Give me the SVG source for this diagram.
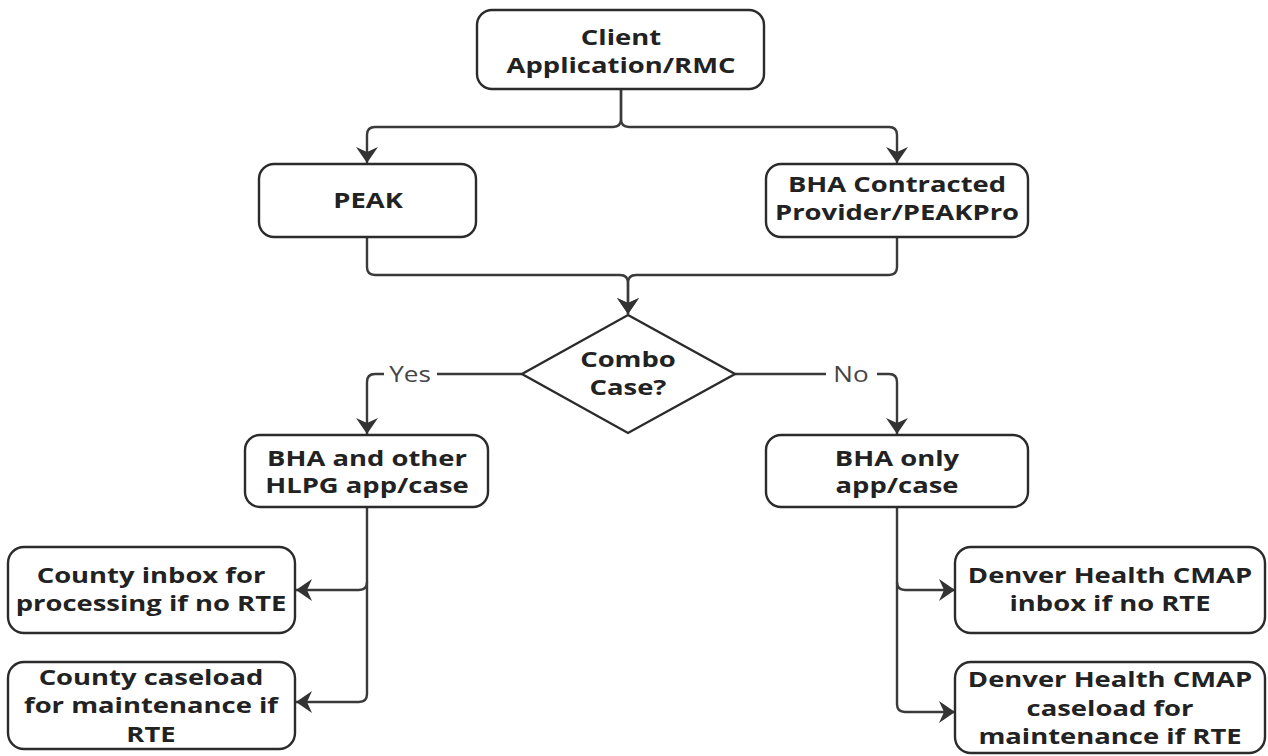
<svg xmlns="http://www.w3.org/2000/svg" width="1268" height="756" viewBox="0 0 1268 756">
<defs>
<style>
.box{fill:#fff;stroke:#2b2b2b;stroke-width:2.4}
.t{font-family:"Open Sans","Liberation Sans",sans-serif;font-weight:bold;font-size:21px;fill:#222;text-anchor:middle}
.lbl{font-family:"Open Sans","Liberation Sans",sans-serif;font-size:21px;fill:#444;text-anchor:middle}
.c{fill:none;stroke:#3a3a3a;stroke-width:2.4}
</style>
<marker id="ah" markerUnits="userSpaceOnUse" markerWidth="26" markerHeight="26" refX="16" refY="11" orient="auto">
<path d="M0,0 L16,11 L0,22 L5,11 Z" fill="#333"/>
</marker>
</defs>
<rect width="1268" height="756" fill="#fff"/>
<g id="connectors">
<path class="c" d="M621 89 V119 Q621 127 613 127 H375 Q367 127 367 135 V163" marker-end="url(#ah)"/>
<path class="c" d="M621 89 V119 Q621 127 629 127 H889 Q897 127 897 135 V163" marker-end="url(#ah)"/>
<path class="c" d="M367 237 V267 Q367 275 375 275 H620 Q628 275 628 283 V314" marker-end="url(#ah)"/>
<path class="c" d="M897 237 V267 Q897 275 889 275 H636 Q628 275 628 283 V314" marker-end="url(#ah)"/>
<path class="c" d="M522 374 H437"/>
<path class="c" d="M384 374 H375 Q367 374 367 382 V434" marker-end="url(#ah)"/>
<text class="lbl" transform="translate(410 382) scale(1.24 1)">Yes</text>
<path class="c" d="M735 374 H826"/>
<path class="c" d="M877 374 H889 Q897 374 897 382 V434" marker-end="url(#ah)"/>
<text class="lbl" transform="translate(851 382) scale(1.24 1)">No</text>
<path class="c" d="M367 507 V582 Q367 590 359 590 H296" marker-end="url(#ah)"/>
<path class="c" d="M367 582 V694 Q367 702 359 702 H296" marker-end="url(#ah)"/>
<path class="c" d="M897 507 V582 Q897 590 905 590 H955" marker-end="url(#ah)"/>
<path class="c" d="M897 582 V704 Q897 712 905 712 H955" marker-end="url(#ah)"/>
</g>
<g id="client">
<rect class="box" x="477" y="10" width="287" height="79" rx="15"/>
<text class="t" transform="translate(621 45) scale(1.305 1)">Client</text>
<text class="t" transform="translate(621 73) scale(1.305 1)">Application/RMC</text>
</g>
<g id="peak">
<rect class="box" x="259" y="164" width="217" height="73" rx="15"/>
<text class="t" transform="translate(368 208) scale(1.305 1)">PEAK</text>
</g>
<g id="contracted">
<rect class="box" x="766" y="164" width="262" height="73" rx="15"/>
<text class="t" transform="translate(897 192) scale(1.305 1)">BHA Contracted</text>
<text class="t" transform="translate(897 220) scale(1.305 1)">Provider/PEAKPro</text>
</g>
<g id="combo">
<polygon class="box" points="628,315 735,374 628,433 522,374"/>
<text class="t" transform="translate(628 367) scale(1.305 1)">Combo</text>
<text class="t" transform="translate(628 395) scale(1.305 1)">Case?</text>
</g>
<g id="bha-other">
<rect class="box" x="245" y="435" width="243" height="72" rx="15"/>
<text class="t" transform="translate(367 466) scale(1.305 1)">BHA and other</text>
<text class="t" transform="translate(367 493) scale(1.305 1)">HLPG app/case</text>
</g>
<g id="bha-only">
<rect class="box" x="766" y="435" width="262" height="72" rx="15"/>
<text class="t" transform="translate(897 466) scale(1.305 1)">BHA only</text>
<text class="t" transform="translate(897 493) scale(1.305 1)">app/case</text>
</g>
<g id="county-inbox">
<rect class="box" x="8" y="547" width="287" height="86" rx="16"/>
<text class="t" transform="translate(151 583) scale(1.305 1)">County inbox for</text>
<text class="t" transform="translate(151 611) scale(1.305 1)">processing if no RTE</text>
</g>
<g id="county-caseload">
<rect class="box" x="8" y="662" width="287" height="87" rx="16"/>
<text class="t" transform="translate(151 685) scale(1.305 1)">County caseload</text>
<text class="t" transform="translate(151 713) scale(1.305 1)">for maintenance if</text>
<text class="t" transform="translate(151 742) scale(1.305 1)">RTE</text>
</g>
<g id="denver-inbox">
<rect class="box" x="955" y="547" width="310" height="86" rx="16"/>
<text class="t" transform="translate(1110 583) scale(1.305 1)">Denver Health CMAP</text>
<text class="t" transform="translate(1110 611) scale(1.305 1)">inbox if no RTE</text>
</g>
<g id="denver-caseload">
<rect class="box" x="955" y="662" width="310" height="91" rx="16"/>
<text class="t" transform="translate(1110 687) scale(1.305 1)">Denver Health CMAP</text>
<text class="t" transform="translate(1110 716) scale(1.305 1)">caseload for</text>
<text class="t" transform="translate(1110 744) scale(1.305 1)">maintenance if RTE</text>
</g>
</svg>
